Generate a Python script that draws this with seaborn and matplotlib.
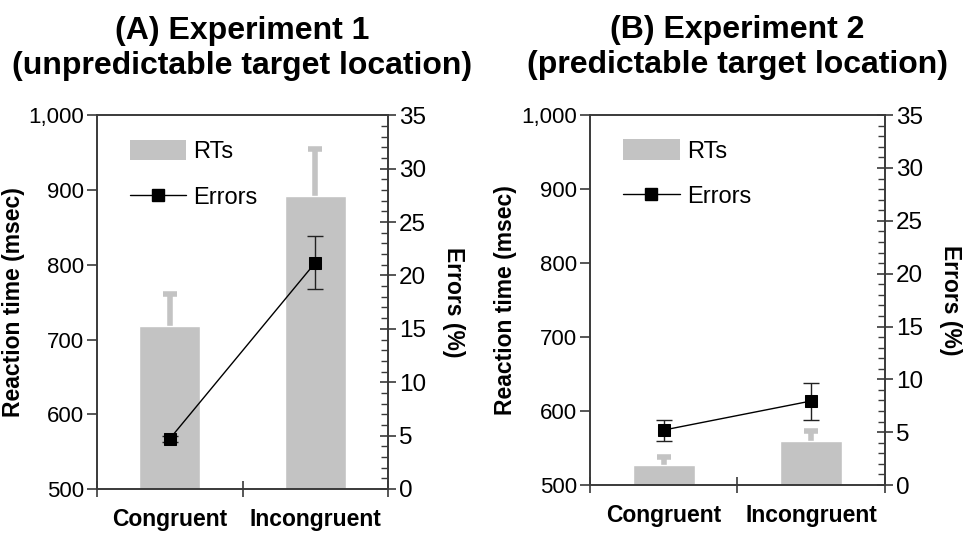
import numpy as np
import matplotlib
matplotlib.use("Agg")
import matplotlib.pyplot as plt
import seaborn as sns
from matplotlib.ticker import MultipleLocator, FuncFormatter, FixedLocator
from matplotlib.patches import Patch
from matplotlib.lines import Line2D

sns.set_style("white")
plt.rcParams['font.family'] = ['Liberation Sans', 'DejaVu Sans']
plt.rcParams['text.color'] = 'black'
plt.rcParams['axes.labelcolor'] = 'black'
plt.rcParams['xtick.color'] = 'black'
plt.rcParams['ytick.color'] = 'black'

categories = ["Congruent", "Incongruent"]
titles = ["(A) Experiment 1\n(unpredictable target location)",
          "(B) Experiment 2\n(predictable target location)"]
rt_exp1 = [718, 892]
rt_err_exp1 = [43, 63]
errors_exp1 = [4.7, 21.2]
errors_err_exp1 = [0.3, 2.5]
rt_exp2 = [527, 560]
rt_err_exp2 = [11, 13]
errors_exp2 = [5.2, 7.95]
errors_err_exp2 = [1.0, 1.75]

rt_ticks = [500, 600, 700, 800, 900, 1000]
err_ticks = [0, 5, 10, 15, 20, 25, 30, 35]

panels = [
    (titles[0], rt_exp1, rt_err_exp1, errors_exp1, errors_err_exp1, [0.1003, 0.0826, 0.301, 0.701]),
    (titles[1], rt_exp2, rt_err_exp2, errors_exp2, errors_err_exp2, [0.610, 0.090, 0.305, 0.694]),
]

fig = plt.figure(figsize=(9.67, 5.33), dpi=100)
bar_color = "#c3c3c3"
spine_color = "#3a3a3a"

for title, rt, rt_err, err, err_err, rect in panels:
    ax = fig.add_axes(rect)
    sns.barplot(x=categories, y=rt, color=bar_color, width=0.42, ax=ax,
                saturation=1, errorbar=None, zorder=2)
    xs = np.arange(len(categories))
    eb = ax.errorbar(xs, rt, yerr=[np.zeros(len(rt)), rt_err], fmt="none",
                     ecolor=bar_color, elinewidth=4, capsize=5, capthick=4, zorder=1)
    # keep only the upper cap
    eb[1][0].remove()
    ax.set_xlim(-0.5, 1.5)
    ax.set_ylim(500, 1000)
    ax.yaxis.set_major_locator(FixedLocator(rt_ticks))
    ax.yaxis.set_major_formatter(FuncFormatter(lambda v, p: f"{int(v):,}"))
    ax.tick_params(axis="y", direction="out", length=7, width=1.2, labelsize=16,
                   color=spine_color, pad=2, left=True)
    ax.set_xticks(xs)
    ax.set_xticklabels(categories, fontsize=16.5, fontweight="bold")
    ax.tick_params(axis="x", which="major", length=0, pad=14)
    ax.set_xticks([-0.5, 0.5, 1.5], minor=True)
    ax.tick_params(axis="x", which="minor", direction="inout", length=12, width=1.2,
                   color=spine_color, bottom=True)
    ax.set_xlabel("")
    ax.set_ylabel("Reaction time (msec)", fontsize=16.5, fontweight="bold", labelpad=3)
    for s in ax.spines.values():
        s.set_visible(True)
        s.set_color(spine_color)
        s.set_linewidth(1.2)
    ax.set_title(title, fontsize=23, fontweight="bold", pad=30, linespacing=1.22)

    ax2 = ax.twinx()
    sns.lineplot(x=xs, y=err, ax=ax2, color="black", marker="s", markersize=9,
                 markeredgecolor="black", linewidth=1, zorder=4)
    ax2.errorbar(xs, err, yerr=err_err, fmt="none", ecolor="#222222",
                 elinewidth=1, capsize=6, capthick=1, zorder=3)
    ax2.set_ylim(0, 35)
    ax2.yaxis.set_major_locator(FixedLocator(err_ticks))
    ax2.yaxis.set_minor_locator(MultipleLocator(1))
    ax2.tick_params(axis="y", which="major", direction="inout", length=12, width=1.2,
                    labelsize=17.5, color=spine_color, pad=2, right=True)
    ax2.tick_params(axis="y", which="minor", direction="in", length=5, width=1,
                    color=spine_color, right=True)
    ax2.set_ylabel("Errors (%)", fontsize=16.5, fontweight="bold", rotation=-90,
                   labelpad=28)
    for s in ax2.spines.values():
        s.set_color(spine_color)
        s.set_linewidth(1.2)

    handles = [Patch(facecolor=bar_color, edgecolor="none"),
               Line2D([0], [0], color="black", linewidth=1, marker="s",
                      markersize=9, markeredgecolor="black")]
    ax2.legend(handles, ["RTs", "Errors"], loc="upper left",
               bbox_to_anchor=(0.08, 0.96), frameon=False, fontsize=17,
               handlelength=2.4, handleheight=0.95, labelspacing=0.95,
               handletextpad=0.3, borderaxespad=0)

fig.savefig("out.png", dpi=100)
